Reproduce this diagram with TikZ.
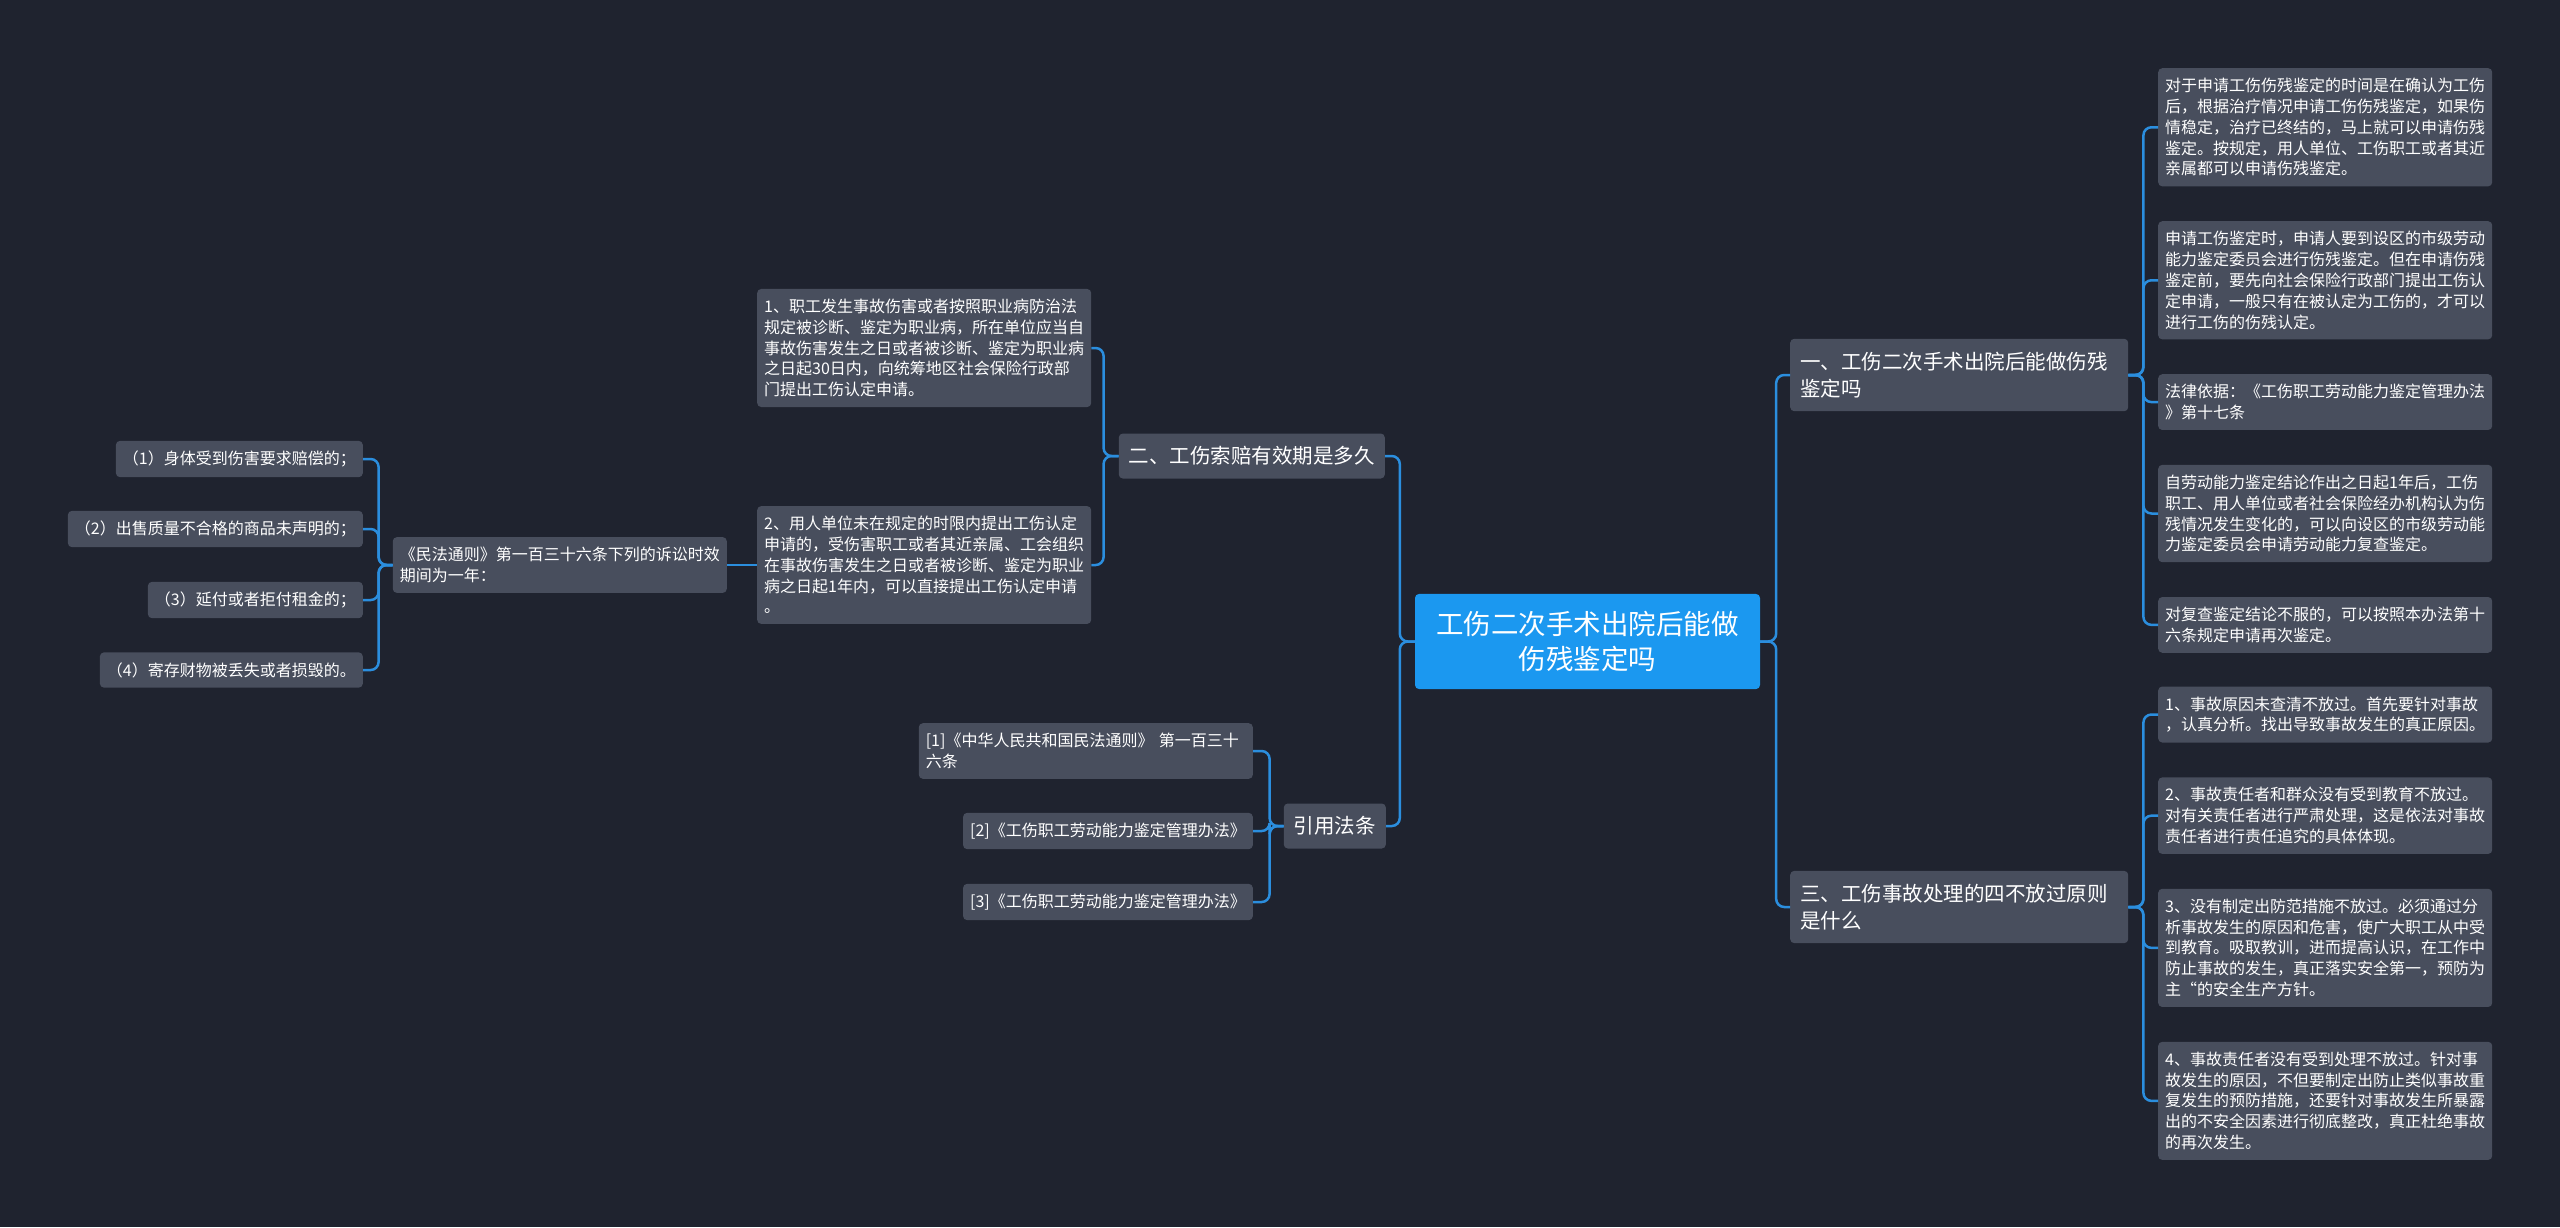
\documentclass[tikz,border=0pt]{standalone}
\usepackage{fontspec}
\setmainfont{Noto Sans CJK SC}
\usetikzlibrary{positioning}
\definecolor{bgcol}{RGB}{31,35,47}
\definecolor{boxgray}{RGB}{72,78,93}
\definecolor{rootblue}{RGB}{27,152,240}
\definecolor{linkblue}{RGB}{43,142,222}
\tikzset{
  base/.style={rounded corners=4pt, text=white},
  root/.style={base, fill=rootblue, font=\fontsize{27.5}{35.5}\selectfont, text width=303pt, align=center, inner xsep=21pt, inner ysep=17pt},
  topic/.style={base, fill=boxgray, font=\fontsize{20.5}{27.3}\selectfont, inner xsep=10pt, inner ysep=13pt},
  leaf/.style={base, fill=boxgray, font=\fontsize{16}{20.8}\selectfont, inner xsep=7pt, inner ysep=10pt},
  wide/.style={text width=320pt, align=left},
  link/.style={draw=linkblue, line width=2.5pt, rounded corners=8pt},
}
\begin{document}
\begin{tikzpicture}[x=1pt, y=-1pt, node distance=34.5pt]
   \fill[bgcol] (0,0) rectangle (2560,1227);
   \useasboundingbox (0,0) rectangle (2560,1227);
   % centre and main topics
   \node[root] (root) at (1587.5,641.5) {工伤二次手术出院后能做\\伤残鉴定吗};
   \node[topic, text width=318pt, align=left, anchor=west] (b1) at (1790,375) {一、工伤二次手术出院后能做伤残\\鉴定吗};
   \node[topic, text width=318pt, align=left, anchor=west] (b3) at (1790,907) {三、工伤事故处理的四不放过原则\\是什么};
   \node[topic, anchor=east] (b2) at (1385,456) {二、工伤索赔有效期是多久};
   \node[topic, anchor=east] (cite) at (1386,826) {引用法条};
   % right leaves
   \node[leaf, wide, anchor=north west] (r1) at (2158,68) {对于申请工伤伤残鉴定的时间是在确认为工伤\\后，根据治疗情况申请工伤伤残鉴定，如果伤\\情稳定，治疗已终结的，马上就可以申请伤残\\鉴定。按规定，用人单位、工伤职工或者其近\\亲属都可以申请伤残鉴定。};
   \node[leaf, wide, below=of r1] (r2) {申请工伤鉴定时，申请人要到设区的市级劳动\\能力鉴定委员会进行伤残鉴定。但在申请伤残\\鉴定前，要先向社会保险行政部门提出工伤认\\定申请，一般只有在被认定为工伤的，才可以\\进行工伤的伤残认定。};
   \node[leaf, wide, below=of r2] (r3) {法律依据：《工伤职工劳动能力鉴定管理办法\\》第十七条};
   \node[leaf, wide, below=of r3] (r4) {自劳动能力鉴定结论作出之日起1年后，工伤\\职工、用人单位或者社会保险经办机构认为伤\\残情况发生变化的，可以向设区的市级劳动能\\力鉴定委员会申请劳动能力复查鉴定。};
   \node[leaf, wide, below=of r4] (r5) {对复查鉴定结论不服的，可以按照本办法第十\\六条规定申请再次鉴定。};
   \node[leaf, wide, anchor=west] (r6) at (2158,714.5) {1、事故原因未查清不放过。首先要针对事故\\，认真分析。找出导致事故发生的真正原因。};
   \node[leaf, wide, below=of r6] (r7) {2、事故责任者和群众没有受到教育不放过。\\对有关责任者进行严肃处理，这是依法对事故\\责任者进行责任追究的具体体现。};
   \node[leaf, wide, below=of r7] (r8) {3、没有制定出防范措施不放过。必须通过分\\析事故发生的原因和危害，使广大职工从中受\\到教育。吸取教训，进而提高认识，在工作中\\防止事故的发生，真正落实安全第一，预防为\\主“的安全生产方针。};
   \node[leaf, wide, below=of r8] (r9) {4、事故责任者没有受到处理不放过。针对事\\故发生的原因，不但要制定出防止类似事故重\\复发生的预防措施，还要针对事故发生所暴露\\出的不安全因素进行彻底整改，真正杜绝事故\\的再次发生。};
   % left leaves
   \node[leaf, wide, anchor=west] (l1) at (757,348) {1、职工发生事故伤害或者按照职业病防治法\\规定被诊断、鉴定为职业病，所在单位应当自\\事故伤害发生之日或者被诊断、鉴定为职业病\\之日起30日内，向统筹地区社会保险行政部\\门提出工伤认定申请。};
   \node[leaf, wide, anchor=west] (l2) at (757,565) {2、用人单位未在规定的时限内提出工伤认定\\申请的，受伤害职工或者其近亲属、工会组织\\在事故伤害发生之日或者被诊断、鉴定为职业\\病之日起1年内，可以直接提出工伤认定申请\\。};
   \node[leaf, wide, left=30pt of l2] (law) {《民法通则》第一百三十六条下列的诉讼时效\\期间为一年：};
   \node[leaf, anchor=east] (c1) at (363,459) {（1）身体受到伤害要求赔偿的；};
   \node[leaf, anchor=east] (c2) at (363,529) {（2）出售质量不合格的商品未声明的；};
   \node[leaf, anchor=east] (c3) at (363,600) {（3）延付或者拒付租金的；};
   \node[leaf, anchor=east] (c4) at (363,670) {（4）寄存财物被丢失或者损毁的。};
   \node[leaf, wide, anchor=east] (y1) at (1253,751) {[1]《中华人民共和国民法通则》 第一百三十\\六条};
   \node[leaf, anchor=east] (y2) at (1253,831) {[2]《工伤职工劳动能力鉴定管理办法》};
   \node[leaf, anchor=east] (y3) at (1253,902) {[3]《工伤职工劳动能力鉴定管理办法》};
   % links
   \draw[link] (root.east) -- ++(16,0) |- (b1.west);
   \draw[link] (root.east) -- ++(16,0) |- (b3.west);
   \draw[link] (root.west) -- ++(-15,0) |- (b2.east);
   \draw[link] (root.west) -- ++(-15,0) |- (cite.east);
   \foreach \n in {1,...,5}
      \draw[link] (b1.east) -- ++(15,0) |- (r\n.west);
   \foreach \n in {6,...,9}
      \draw[link] (b3.east) -- ++(15,0) |- (r\n.west);
   \foreach \n in {1,2}
      \draw[link] (b2.west) -- ++(-15,0) |- (l\n.east);
   \draw[link] (l2.west) -- (law.east);
   \foreach \n in {1,...,4}
      \draw[link] (law.west) -- ++(-14,0) |- (c\n.east);
   \foreach \n in {1,2,3}
      \draw[link] (cite.west) -- ++(-14,0) |- (y\n.east);
\end{tikzpicture}
\end{document}
